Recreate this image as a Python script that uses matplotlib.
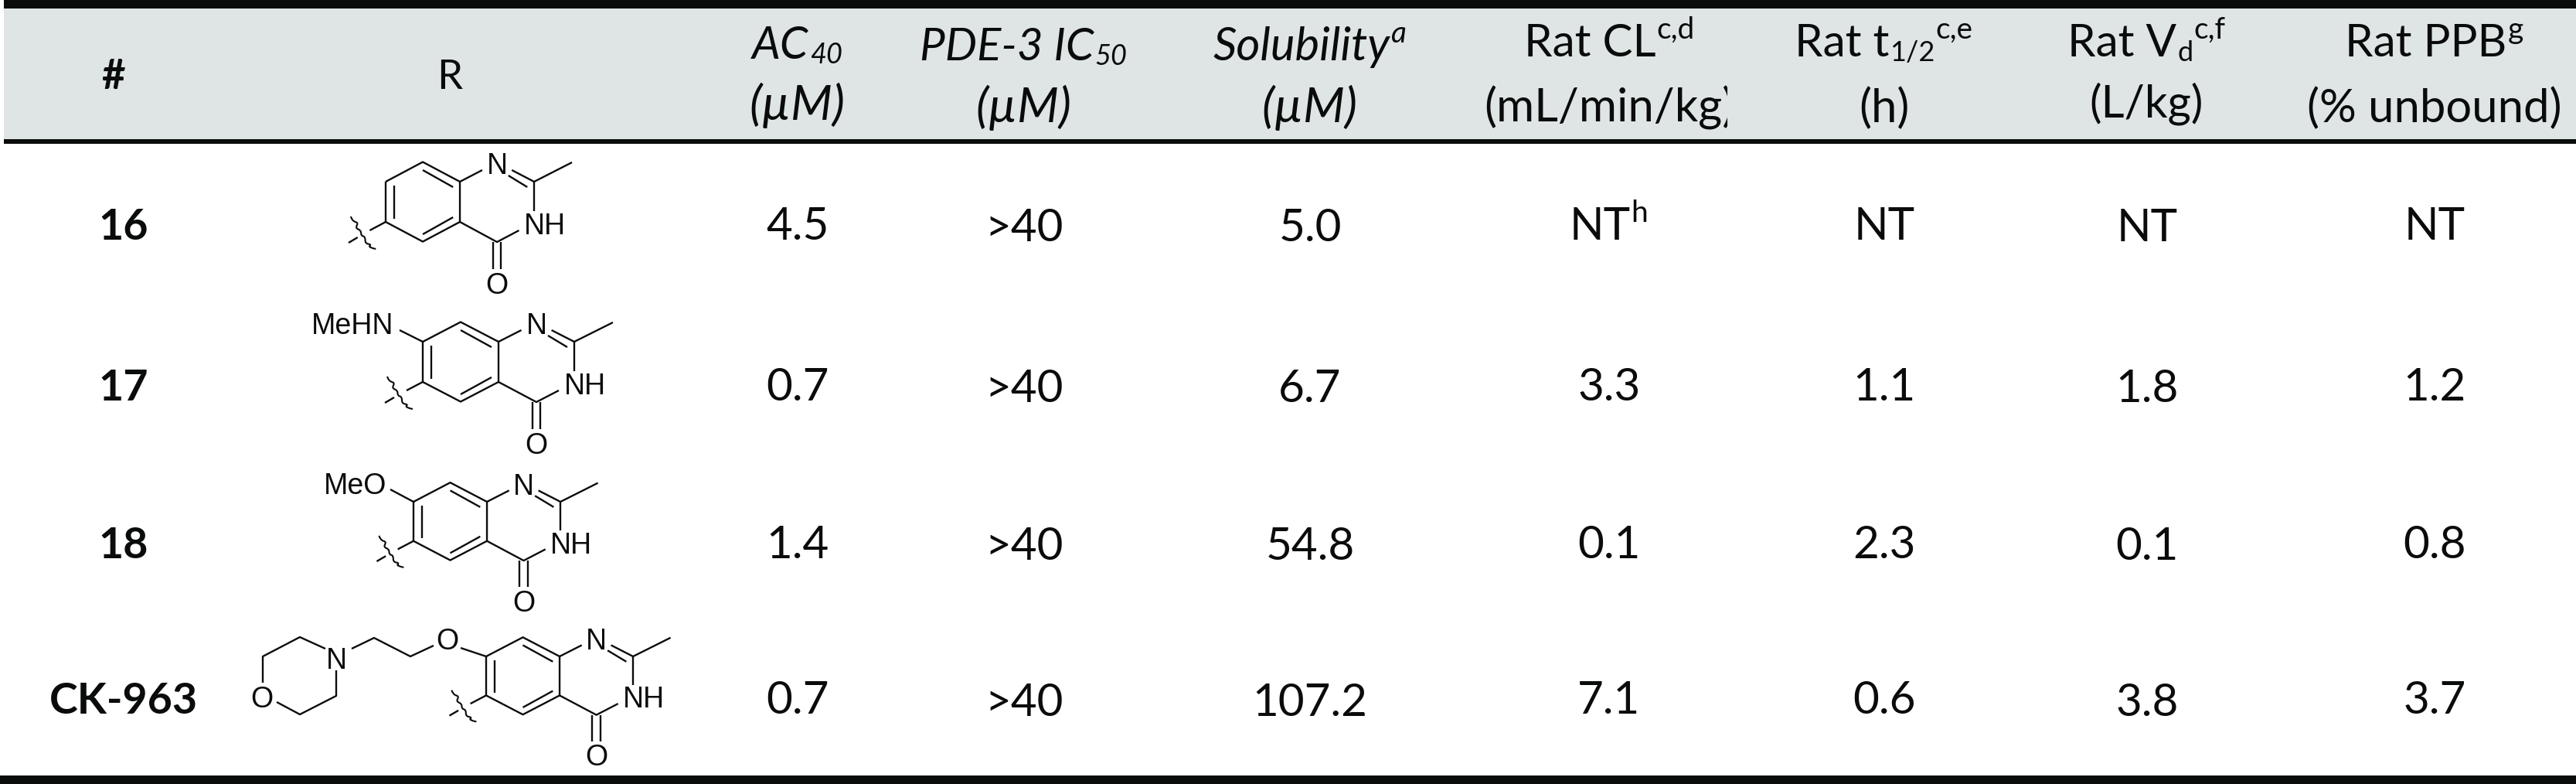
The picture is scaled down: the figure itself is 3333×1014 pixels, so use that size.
import matplotlib
matplotlib.use('Agg')
import matplotlib.pyplot as plt
from matplotlib.patches import PathPatch, Rectangle
from matplotlib.path import Path

plt.rcParams['font.family'] = ['Lato', 'DejaVu Sans']

# table content
compounds = ['16', '17', '18', 'CK-963']
ac40 = ['4.5', '0.7', '1.4', '0.7']
pde3 = ['>40', '>40', '>40', '>40']
solubility = ['5.0', '6.7', '54.8', '107.2']
rat_cl = ['NT', '3.3', '0.1', '7.1']
rat_t12 = ['NT', '1.1', '2.3', '0.6']
rat_vd = ['NT', '1.8', '0.1', '3.8']
rat_ppb = ['NT', '1.2', '0.8', '3.7']
columns = [ac40, pde3, solubility, rat_cl, rat_t12, rat_vd, rat_ppb]

# layout, in pixels of the reference
col_x = [1032, 1325, 1695, 2082, 2438, 2778, 3150]
col_dy = [0, 2.5, 2.5, 0, 0, 2.5, 0]
row_y = [310, 518, 722, 923]

BLACK = '#0a0c0b'
GREY = '#dfe5e5'
BIG = 42
UNIT = 45
LINE2 = 43
SMALL = 26
SUP = 28

# quinazolinone skeleton, relative to the upper left ring atom
ring = [(0, 0), (49, -25.5), (98, 0), (98, 52), (49, 77.5), (0, 52), (0, 0)]
bonds = [
    [(98, 0), (127.5, -15)],
    [(166.6, -15), (196, 0), (246, -25)],
    [(196, 0), (196, 38)],
    [(176, 63), (147, 78), (98, 52)],
    [(162, -8), (187, 7)],
    [(141.7, 78), (141.7, 113)],
    [(152.4, 78), (152.4, 113)],
    [(11, 5), (11, 48)],
    [(49, -15), (89, 7)],
    [(49, 68), (89, 46)],
    [(0, 52), (-21, 63)],
    [(-37, 72), (-49, 79)],
]
wave = [(-46, 45), (-44, 51), (-36, 53), (-40, 60), (-32.5, 63), (-32.5, 70),
        (-27, 71), (-27, 80), (-19, 81), (-23, 85), (-13, 87)]
atoms = [('N', 147, -24), ('NH', 210, 54), ('O', 147, 131)]

# where each skeleton sits and how it is scaled
mol_origin = [(499, 235), (547, 442), (535, 649), (629, 849)]
mol_scale = [(0.98, 1.0), (1.0, 1.0), (0.97, 0.975), (0.97, 0.97)]

# morpholine ethyl ether of CK-963
ck_chain = [
    [(629, 849), (596, 838)],
    [(561, 835), (531, 849), (484, 825), (455, 839)],
    [(435, 867), (435, 900), (388, 924), (358, 908)],
    [(340, 883), (340, 849), (388, 824), (421, 839)],
]
ck_atoms = [('O', 579, 826), ('N', 435, 851), ('O', 339, 901)]

fig = plt.figure(figsize=(33.33, 10.14), dpi=100)
ax = fig.add_axes([0, 0, 1, 1])
ax.set_xlim(0, 3333)
ax.set_ylim(1014, 0)
ax.axis('off')


def rich(cx, y, parts, clip=None):
    """ Write pieces of text one after another, centred on cx.

    :param cx: centre of the whole line
    :param y: baseline
    :param parts: list of (text, size, shift down, style)
    :param clip: right limit of the text, if any
    :return: None
    """
    renderer = fig.canvas.get_renderer()
    items = []
    total = 0
    for text, size, dy, style in parts:
        t = ax.text(0, y + dy, text, fontsize=size, style=style, color=BLACK, va='baseline', ha='left')
        w = t.get_window_extent(renderer).width + 1
        items.append((t, w))
        total += w
    x = cx - total / 2
    for t, w in items:
        t.set_x(x)
        x += w
        if clip is not None:
            t.set_clip_path(Rectangle((0, 0), clip, 1014, transform=ax.transData))
            t.set_clip_on(True)


def line(points, ox=0, oy=0, sx=1, sy=1):
    xs = [ox + p[0] * sx for p in points]
    ys = [oy + p[1] * sy for p in points]
    ax.plot(xs, ys, color=BLACK, lw=1.7, solid_joinstyle='round', solid_capstyle='butt')


def wavy(points, ox, oy, sx, sy):
    """ Draw the attachment wave as quadratic curves through the midpoints of the given points. """
    p = [(ox + a * sx, oy + b * sy) for a, b in points]
    verts = [p[0]]
    codes = [Path.MOVETO]
    for i in range(1, len(p) - 1):
        end = p[i + 1] if i == len(p) - 2 else ((p[i][0] + p[i + 1][0]) / 2, (p[i][1] + p[i + 1][1]) / 2)
        verts += [p[i], end]
        codes += [Path.CURVE3, Path.CURVE3]
    ax.add_patch(PathPatch(Path(verts, codes), fill=False, edgecolor=BLACK, lw=1.5))


def atom(label, x, y):
    ax.text(x, y, label, family='Liberation Sans', fontsize=27, color=BLACK, ha='center', va='center_baseline')


def molecule(origin, scale):
    ox, oy = origin
    sx, sy = scale
    line(ring, ox, oy, sx, sy)
    for b in bonds:
        line(b, ox, oy, sx, sy)
    wavy(wave, ox, oy, sx, sy)
    for label, x, y in atoms:
        atom(label, ox + x * sx, oy + y * sy)


# header band and rules
ax.add_patch(Rectangle((5, 10), 3328, 170, color=GREY, lw=0))
ax.add_patch(Rectangle((5, 0), 3328, 10.5, color=BLACK, lw=0))
ax.add_patch(Rectangle((5, 180), 3328, 5.5, color=BLACK, lw=0))
ax.add_patch(Rectangle((0, 1003), 3333, 11, color=BLACK, lw=0))

# header
ax.text(147, 115, '#', fontsize=38, weight='bold', color=BLACK, ha='center', va='baseline')
ax.text(582, 115, 'R', fontsize=38, color=BLACK, ha='center', va='baseline')
rich(1032, 76, [('AC', BIG, 0, 'italic'), ('40', SMALL, 6, 'italic')])
rich(1032, 155, [('(µM)', UNIT, 0, 'italic')])
rich(1325, 78, [('PDE-3 IC', BIG, 0, 'italic'), ('50', SMALL, 6, 'italic')])
rich(1325, 158, [('(µM)', UNIT, 0, 'italic')])
rich(1695, 78, [('Solubility', LINE2, 0, 'italic'), ('a', SUP, -23, 'italic')])
rich(1695, 158, [('(µM)', UNIT, 0, 'italic')])
rich(2083, 73, [('Rat CL', BIG, 0, 'normal'), ('c,d', SUP, -23, 'normal')])
rich(2083, 158, [('(mL/min/kg)', LINE2, 0, 'normal')], clip=2235)
rich(2438, 73, [('Rat t', BIG, 0, 'normal'), ('1/2', SMALL, 6, 'normal'), ('c,e', SUP, -23, 'normal')])
rich(2438, 158, [('(h)', LINE2, 0, 'normal')])
rich(2778, 73, [('Rat V', BIG, 0, 'normal'), ('d', SMALL, 6, 'normal'), ('c,f', SUP, -23, 'normal')])
rich(2778, 152, [('(L/kg)', BIG, 0, 'normal')])
rich(3150, 73, [('Rat PPB', BIG, 0, 'normal'), ('g', SUP, -23, 'normal')])
rich(3150, 158, [('(% unbound)', LINE2, 0, 'normal')])

# body
for name, y in zip(compounds, row_y):
    ax.text(160, y, name, fontsize=40, weight='bold', color=BLACK, ha='center', va='baseline')
for values, x, dy in zip(columns, col_x, col_dy):
    for value, y in zip(values, row_y):
        if values is rat_cl and value == 'NT':
            rich(x, y, [('NT', BIG, 0, 'normal'), ('h', SUP, -23, 'normal')])
        else:
            ax.text(x, y + dy, value, fontsize=BIG, color=BLACK, ha='center', va='baseline')

# R groups
for origin, scale in zip(mol_origin, mol_scale):
    molecule(origin, scale)

line([(547, 442), (517, 427)])
atom('MeHN', 456, 418)
line([(535, 649), (505, 633)])
atom('MeO', 460, 625)
for chain in ck_chain:
    line(chain)
for label, x, y in ck_atoms:
    atom(label, x, y)

fig.savefig('out.png', dpi=100, facecolor='white')
